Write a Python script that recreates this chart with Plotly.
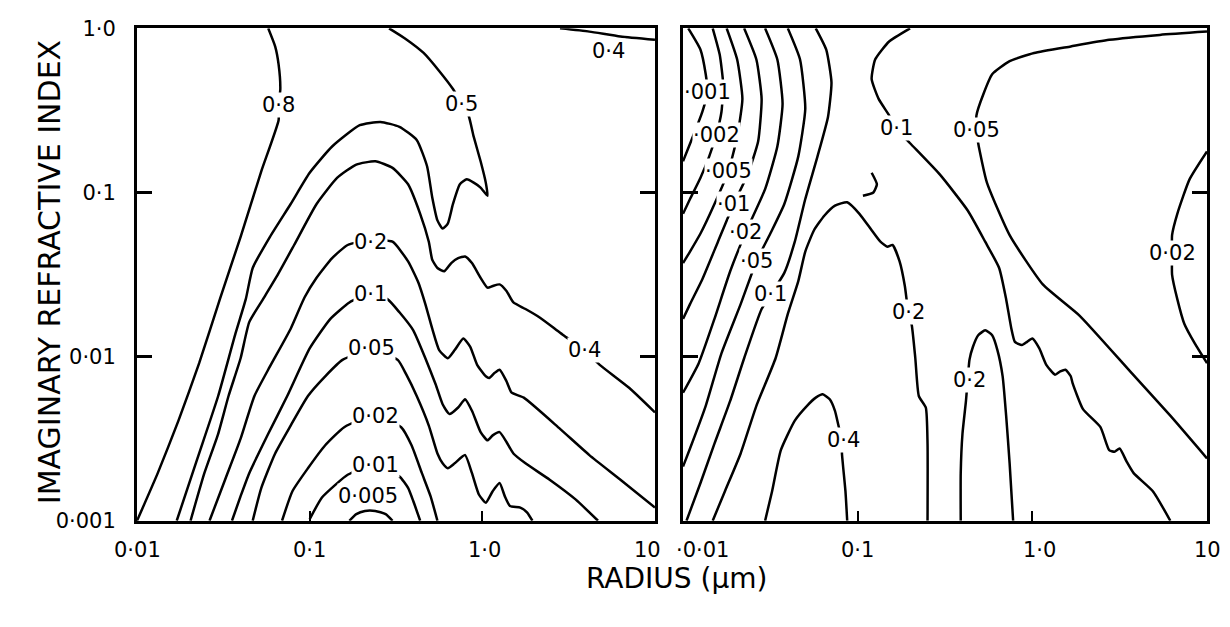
import numpy as np
import plotly.graph_objects as go

# Contour lines, stored as log10(radius / um) and log10(imaginary index)

# ---------------- left panel ----------------
l08_r = [-1.24, -1.20, -1.18, -1.17, -1.18, -1.18, -1.28, -1.40, -1.52, -1.64, -1.76, -1.88, -2.00]
l08_k = [0.00, -0.11, -0.22, -0.37, -0.47, -0.56, -0.87, -1.27, -1.65, -2.04, -2.39, -2.71, -3.00]

l05_r = [-1.77, -1.65, -1.53, -1.43, -1.37, -1.33, -1.23, -1.11, -1.00, -0.87, -0.71, -0.59, -0.48,
         -0.38, -0.32, -0.29, -0.26, -0.23, -0.20, -0.17, -0.13, -0.09, -0.05, -0.01, 0.03, 0.02,
         -0.01, -0.05, -0.08, -0.13, -0.17, -0.25, -0.34, -0.45, -0.54]
l05_k = [-3.00, -2.62, -2.24, -1.86, -1.65, -1.46, -1.27, -1.07, -0.88, -0.72, -0.59, -0.57, -0.60,
         -0.68, -0.84, -1.03, -1.17, -1.22, -1.19, -1.07, -0.95, -0.92, -0.94, -0.97, -1.02, -0.94,
         -0.81, -0.66, -0.53, -0.44, -0.37, -0.26, -0.15, -0.06, 0.00]

l04_r = [-1.69, -1.61, -1.53, -1.47, -1.40, -1.35, -1.27, -1.19, -1.09, -0.96, -0.84, -0.73, -0.62,
         -0.52, -0.43, -0.36, -0.31, -0.29, -0.26, -0.22, -0.18, -0.14, -0.10, -0.06, -0.01, 0.03,
         0.06, 0.10, 0.14, 0.18, 0.25, 0.33, 0.42, 0.47, 0.59, 0.68, 0.85, 1.00]
l04_k = [-3.00, -2.71, -2.47, -2.24, -2.01, -1.79, -1.65, -1.51, -1.32, -1.07, -0.91, -0.83, -0.81,
         -0.85, -0.95, -1.13, -1.30, -1.41, -1.46, -1.48, -1.43, -1.40, -1.39, -1.43, -1.52, -1.58,
         -1.57, -1.56, -1.60, -1.67, -1.71, -1.76, -1.83, -1.87, -1.96, -2.05, -2.19, -2.34]

l04top_r = [0.45, 0.62, 0.80, 1.00]
l04top_k = [0.00, -0.02, -0.05, -0.07]

l02_r = [-1.58, -1.49, -1.40, -1.32, -1.23, -1.11, -1.03, -0.96, -0.87, -0.78, -0.65, -0.52, -0.43,
         -0.37, -0.33, -0.29, -0.25, -0.20, -0.16, -0.11, -0.07, -0.03, 0.02, 0.04, 0.07, 0.10,
         0.14, 0.17, 0.24, 0.45, 0.62, 0.80, 1.00]
l02_k = [-3.00, -2.75, -2.50, -2.24, -2.06, -1.83, -1.64, -1.52, -1.40, -1.32, -1.29, -1.30, -1.42,
         -1.55, -1.68, -1.83, -1.96, -2.01, -1.96, -1.89, -1.94, -2.05, -2.12, -2.13, -2.10, -2.08,
         -2.15, -2.22, -2.25, -2.44, -2.60, -2.75, -2.92]

l01_r = [-1.45, -1.40, -1.35, -1.24, -1.13, -1.00, -0.88, -0.77, -0.66, -0.55, -0.48, -0.40, -0.33,
         -0.27, -0.23, -0.19, -0.14, -0.10, -0.06, -0.01, 0.03, 0.06, 0.10, 0.14, 0.18, 0.25, 0.39,
         0.54, 0.67]
l01_k = [-3.00, -2.85, -2.71, -2.47, -2.24, -1.95, -1.77, -1.67, -1.62, -1.65, -1.73, -1.84, -2.01,
         -2.17, -2.29, -2.35, -2.31, -2.26, -2.33, -2.46, -2.51, -2.48, -2.46, -2.52, -2.59, -2.65,
         -2.75, -2.87, -3.00]

l005_r = [-1.33, -1.28, -1.20, -1.11, -1.01, -0.91, -0.81, -0.65, -0.49, -0.44, -0.38, -0.31, -0.26,
          -0.23, -0.20, -0.16, -0.10, -0.06, -0.02, 0.02, 0.06, 0.10, 0.13, 0.16, 0.22, 0.26, 0.29]
l005_k = [-3.00, -2.80, -2.59, -2.42, -2.24, -2.12, -2.02, -1.96, -2.02, -2.11, -2.24, -2.42, -2.59,
          -2.65, -2.68, -2.65, -2.60, -2.71, -2.84, -2.89, -2.82, -2.77, -2.85, -2.91, -2.92, -2.95, -3.00]

l002_r = [-1.16, -1.10, -1.01, -0.91, -0.80, -0.63, -0.47, -0.41, -0.35, -0.30, -0.26]
l002_k = [-3.00, -2.82, -2.68, -2.54, -2.43, -2.36, -2.43, -2.54, -2.71, -2.85, -3.00]

l001_r = [-1.00, -0.93, -0.85, -0.78, -0.63, -0.48, -0.43, -0.40, -0.36]
l001_k = [-2.99, -2.86, -2.78, -2.72, -2.66, -2.73, -2.80, -2.88, -3.00]

l0005_r = [-0.77, -0.73, -0.68, -0.62, -0.56, -0.52]
l0005_k = [-3.00, -2.96, -2.94, -2.94, -2.96, -3.00]

left_lab_text = ["0·8", "0·5", "0·4", "0·4", "0·2", "0·1", "0·05", "0·02", "0·01", "0·005"]
left_lab_r = [-1.18, -0.12, 0.73, 0.59, -0.65, -0.65, -0.64, -0.62, -0.62, -0.66]
left_lab_k = [-0.47, -0.46, -0.14, -1.96, -1.30, -1.62, -1.95, -2.36, -2.66, -2.85]

# ---------------- right panel ----------------
r0001_r = [-1.97, -1.90, -1.87, -1.86, -1.89, -1.94, -2.00]
r0001_k = [0.00, -0.13, -0.28, -0.39, -0.51, -0.65, -0.81]

r0002_r = [-1.83, -1.79, -1.77, -1.78, -1.81, -1.85, -1.90, -1.96, -2.00]
r0002_k = [0.00, -0.16, -0.34, -0.51, -0.65, -0.78, -0.91, -1.04, -1.13]

r0005_r = [-1.75, -1.69, -1.66, -1.69, -1.74, -1.82, -1.90, -1.96, -2.00]
r0005_k = [0.00, -0.19, -0.43, -0.66, -0.87, -1.07, -1.25, -1.36, -1.43]

r001_r = [-1.65, -1.58, -1.55, -1.57, -1.63, -1.71, -1.80, -1.89, -1.96, -2.00]
r001_k = [0.00, -0.19, -0.43, -0.69, -0.89, -1.07, -1.30, -1.53, -1.68, -1.77]

r002_r = [-1.53, -1.46, -1.43, -1.46, -1.53, -1.64, -1.73, -1.82, -1.91, -2.00]
r002_k = [0.00, -0.19, -0.46, -0.72, -0.98, -1.24, -1.48, -1.77, -2.04, -2.22]

r005_r = [-1.40, -1.33, -1.30, -1.34, -1.42, -1.50, -1.58, -1.67, -1.78, -1.87, -1.96, -2.00]
r005_k = [0.00, -0.19, -0.49, -0.78, -1.07, -1.25, -1.42, -1.68, -1.98, -2.30, -2.56, -2.67]

r01_r = [-1.24, -1.18, -1.15, -1.17, -1.23, -1.30, -1.36, -1.42, -1.49, -1.55, -1.65, -1.73, -1.82,
         -1.90, -1.98]
r01_k = [0.00, -0.13, -0.33, -0.54, -0.78, -1.04, -1.30, -1.49, -1.61, -1.71, -2.01, -2.27, -2.53,
         -2.77, -3.00]

r02_r = [-1.83, -1.76, -1.67, -1.58, -1.47, -1.40, -1.34, -1.30, -1.25, -1.19, -1.13, -1.06, -0.99,
         -0.92, -0.87, -0.83, -0.80, -0.76, -0.73, -0.71, -0.69, -0.67, -0.65, -0.61, -0.60, -0.60]
r02_k = [-3.00, -2.82, -2.59, -2.30, -2.01, -1.74, -1.54, -1.36, -1.23, -1.14, -1.08, -1.06, -1.13,
         -1.23, -1.30, -1.33, -1.32, -1.42, -1.57, -1.73, -1.81, -2.01, -2.24, -2.31, -2.53, -3.00]

r04_r = [-1.53, -1.49, -1.44, -1.36, -1.29, -1.24, -1.20, -1.16, -1.13, -1.11, -1.09, -1.09, -1.07, -1.06]
r04_k = [-3.00, -2.82, -2.57, -2.39, -2.30, -2.25, -2.23, -2.26, -2.33, -2.42, -2.51, -2.59, -2.82, -3.00]

r01b_r = [-0.70, -0.82, -0.90, -0.92, -0.88, -0.82, -0.78, -0.70, -0.53, -0.37, -0.27, -0.19, -0.15,
          -0.12, -0.10, -0.06, -0.03, 0.00, 0.04, 0.08, 0.13, 0.16, 0.19, 0.22, 0.23, 0.29, 0.39,
          0.44, 0.47, 0.50, 0.54, 0.58, 0.69, 0.79]
r01b_k = [0.00, -0.08, -0.19, -0.31, -0.43, -0.53, -0.61, -0.70, -0.89, -1.11, -1.30, -1.46, -1.65,
          -1.83, -1.91, -1.93, -1.91, -1.89, -1.95, -2.05, -2.11, -2.09, -2.08, -2.12, -2.16, -2.32,
          -2.43, -2.57, -2.58, -2.56, -2.64, -2.71, -2.82, -3.00]

r01c_r = [-0.92, -0.89, -0.91, -0.97]
r01c_k = [-0.88, -0.95, -1.00, -1.02]

r005b_r = [1.00, 0.73, 0.44, 0.22, 0.01, -0.13, -0.23, -0.28, -0.32, -0.32, -0.31, -0.26, -0.13,
           0.06, 0.27, 0.56, 0.79, 1.00]
r005b_k = [-0.02, -0.04, -0.07, -0.11, -0.15, -0.20, -0.28, -0.40, -0.53, -0.62, -0.70, -0.94, -1.26,
           -1.56, -1.75, -2.09, -2.36, -2.62]

r002b_r = [1.00, 0.90, 0.83, 0.80, 0.80, 0.80, 0.83, 0.87, 0.93, 1.00]
r002b_k = [-0.75, -0.92, -1.13, -1.26, -1.37, -1.50, -1.65, -1.80, -1.92, -2.04]

r02b_r = [-0.41, -0.41, -0.40, -0.38, -0.37, -0.36, -0.34, -0.31, -0.27, -0.23, -0.20, -0.17, -0.15, -0.13, -0.11]
r02b_k = [-3.00, -2.71, -2.47, -2.27, -2.14, -2.02, -1.94, -1.87, -1.84, -1.87, -1.96, -2.12, -2.36, -2.65, -3.00]

right_lab_text = ["·001", "·002", "·005", "·01", "·02", "·05", "0·1", "0·1", "0·05", "0·02", "0·2", "0·2", "0·4"]
right_lab_r = [-1.86, -1.81, -1.74, -1.71, -1.64, -1.58, -1.50, -0.78, -0.32, 0.80, -0.71, -0.36, -1.08]
right_lab_k = [-0.39, -0.65, -0.87, -1.07, -1.24, -1.42, -1.62, -0.61, -0.62, -1.37, -1.73, -2.14, -2.51]

# axis ticks
x_tickvals = [0.01, 0.1, 1, 10]
x_ticktext_left = ["0·01", "0·1", "1·0", "10"]
x_ticktext_right = ["·0·01", "0·1", "1·0", "10"]
x_label_shift_left = [0, 0, 2, -7]
x_label_shift_right = [19, 0, 7, 1]
y_tickvals = [0.001, 0.01, 0.1, 1]
y_ticktext = ["0·001", "0·01", "0·1", "1·0"]

FONT = "DejaVu Sans"

left_lines = [(l08_r, l08_k), (l05_r, l05_k), (l04_r, l04_k), (l04top_r, l04top_k),
              (l02_r, l02_k), (l01_r, l01_k), (l005_r, l005_k), (l002_r, l002_k),
              (l001_r, l001_k), (l0005_r, l0005_k)]
right_lines = [(r0001_r, r0001_k), (r0002_r, r0002_k), (r0005_r, r0005_k), (r001_r, r001_k),
               (r002_r, r002_k), (r005_r, r005_k), (r01_r, r01_k), (r02_r, r02_k),
               (r04_r, r04_k), (r01b_r, r01b_k), (r01c_r, r01c_k), (r005b_r, r005b_k),
               (r002b_r, r002b_k), (r02b_r, r02b_k)]

fig = go.Figure()


def add_contour(logr, logk, xa, ya):
    fig.add_trace(go.Scatter(
        x=10 ** np.array(logr), y=10 ** np.array(logk), mode="lines",
        line=dict(color="black", width=2.5, shape="spline", smoothing=0.5),
        xaxis=xa, yaxis=ya, hoverinfo="skip", showlegend=False))


for r, k in left_lines:
    add_contour(r, k, "x", "y")
for r, k in right_lines:
    add_contour(r, k, "x2", "y2")

annotations = []
for t, r, k in zip(left_lab_text, left_lab_r, left_lab_k):
    annotations.append(dict(text=t, x=r, y=k, xref="x", yref="y", showarrow=False,
                            font=dict(family=FONT, size=21, color="black"),
                            bgcolor="white", borderpad=0))
for t, r, k in zip(right_lab_text, right_lab_r, right_lab_k):
    annotations.append(dict(text=t, x=r, y=k, xref="x2", yref="y2", showarrow=False,
                            font=dict(family=FONT, size=21, color="black"),
                            bgcolor="white", borderpad=0))

# radius tick labels, placed along each panel's own x axis
for xref, texts, shifts in (("x", x_ticktext_left, x_label_shift_left),
                            ("x2", x_ticktext_right, x_label_shift_right)):
    for v, t, s in zip(x_tickvals, texts, shifts):
        annotations.append(dict(text=t, x=np.log10(v), y=0.1292, xref=xref, yref="paper",
                                yanchor="top", xshift=s, showarrow=False, borderpad=0,
                                font=dict(family=FONT, size=21, color="black")))

annotations.append(dict(text="IMAGINARY REFRACTIVE INDEX", x=0.0244, y=0.5678,
                        xref="paper", yref="paper", showarrow=False, textangle=-90,
                        font=dict(family=FONT, size=30, color="black")))
annotations.append(dict(text="RADIUS (μm)", x=0.5504, y=0.0303, xref="paper", yref="paper",
                        showarrow=False, font=dict(family=FONT, size=28, color="black")))

xcommon = dict(type="log", range=[-2, 1], showline=True, linecolor="black", linewidth=3,
               mirror=True, ticks="inside", ticklen=10, tickwidth=2, tickcolor="black",
               tickvals=x_tickvals, showticklabels=False, showgrid=False, zeroline=False)
ycommon = dict(type="log", range=[-3, 0], showline=True, linecolor="black", linewidth=3,
               mirror="ticks", ticks="inside", ticklen=15, tickwidth=3, tickcolor="black",
               tickvals=y_tickvals, ticktext=y_ticktext, showgrid=False, zeroline=False,
               tickfont=dict(family=FONT, size=21, color="black"), ticklabelstandoff=14,
               domain=[0.1563, 0.9729])

fig.update_layout(
    width=1230, height=627,
    margin=dict(l=0, r=0, t=0, b=0),
    paper_bgcolor="white", plot_bgcolor="white",
    xaxis=dict(xcommon, domain=[0.1114, 0.5325], anchor="y"),
    yaxis=dict(ycommon, anchor="x"),
    xaxis2=dict(xcommon, domain=[0.5553, 0.9813], anchor="y2"),
    yaxis2=dict(ycommon, anchor="x2", showticklabels=False),
    annotations=annotations,
)

fig.write_html("out.html")
